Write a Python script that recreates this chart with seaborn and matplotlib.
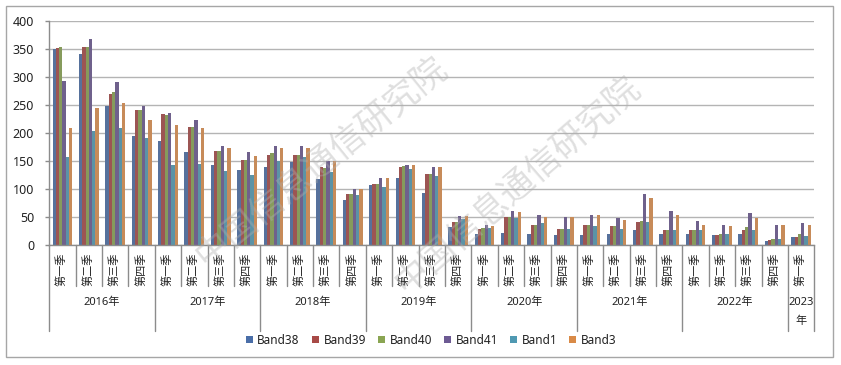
import matplotlib
matplotlib.use('Agg')
import matplotlib.pyplot as plt
import seaborn as sns
import pandas as pd
from matplotlib.patches import Rectangle, Patch

# ---------------- data ----------------
years = ['2016年', '2017年', '2018年', '2019年', '2020年', '2021年', '2022年', '2023年']
quarter_names = ['第一季', '第二季', '第三季', '第四季']
n_periods = 29  # 2016Q1 .. 2023Q1

bands = ['Band38', 'Band39', 'Band40', 'Band41', 'Band1', 'Band3']
band38 = [351, 341, 248, 196, 187, 166, 143, 134, 140, 149, 118, 81, 107, 120, 93, 33, 20, 22, 20, 18, 18, 21, 27, 20, 20, 18, 21, 7, 14]
band39 = [353, 355, 271, 241, 234, 211, 168, 152, 162, 162, 140, 92, 109, 139, 127, 42, 29, 51, 37, 30, 37, 34, 41, 27, 27, 18, 27, 9, 14]
band40 = [355, 355, 273, 241, 232, 211, 168, 152, 164, 162, 138, 92, 109, 141, 127, 42, 31, 51, 37, 29, 37, 34, 43, 27, 27, 21, 32, 12, 20]
band41 = [293, 368, 291, 248, 237, 223, 178, 166, 177, 177, 151, 100, 120, 143, 139, 52, 36, 61, 54, 50, 55, 48, 91, 61, 43, 36, 57, 37, 39]
band1 = [157, 205, 209, 191, 143, 146, 132, 125, 151, 158, 131, 90, 104, 136, 123, 47, 31, 49, 39, 30, 34, 30, 41, 27, 27, 20, 27, 11, 16]
band3 = [209, 246, 255, 223, 214, 209, 173, 159, 174, 174, 151, 100, 120, 143, 139, 52, 35, 60, 50, 50, 55, 45, 84, 55, 37, 34, 48, 36, 37]
colors = ['#4A6EA8', '#A84A47', '#8AA552', '#6D5A93', '#4F99B2', '#D98A47']

series = [band38, band39, band40, band41, band1, band3]
periods = [f'{years[i // 4]}{quarter_names[i % 4]}' for i in range(n_periods)]
rows = []
for b, vals in zip(bands, series):
    for p, v in zip(periods, vals):
        rows.append({'period': p, 'band': b, 'value': v})
df = pd.DataFrame(rows)

# ---------------- figure ----------------
sns.set_theme(style='white')
plt.rcParams['font.family'] = ['Noto Sans', 'Noto Sans CJK SC', 'DejaVu Sans']

W, H = 841, 365
fig = plt.figure(figsize=(W / 100, H / 100), dpi=100)
ax = fig.add_axes([49.3 / W, 1 - 245.3 / H, (814.3 - 49.3) / W, (245.3 - 21.3) / H])

sns.barplot(data=df, x='period', y='value', hue='band', order=periods,
            hue_order=bands, palette=colors, width=0.75, gap=0,
            errorbar=None, linewidth=0, legend=False, ax=ax)

ax.set_xlim(-0.5, n_periods - 0.5)
ax.set_ylim(0, 400)
ax.set_yticks(range(0, 401, 50))
ax.set_xticks([])
ax.set_xlabel('')
ax.set_ylabel('')
ax.yaxis.grid(True, color='#b4b4b4', lw=1)
ax.set_axisbelow(True)
for s in ['top', 'right']:
    ax.spines[s].set_visible(False)
for s in ['left', 'bottom']:
    ax.spines[s].set_color('#8c8c8c')
    ax.spines[s].set_linewidth(1)
ax.tick_params(axis='y', which='both', left=True, length=3, width=1,
               color='#8c8c8c', pad=8, labelsize=9, labelcolor='#222222')

# multi-level category axis
trans = ax.get_xaxis_transform()
ah = 224.0
for i in range(n_periods + 1):
    x = i - 0.5
    boundary = (i % 4 == 0) or (i == n_periods)
    yend = -86 / ah if boundary else -41 / ah
    ax.plot([x, x], [0, yend], transform=trans, color='#8c8c8c', lw=1, clip_on=False)

for i in range(n_periods):
    ax.text(i, -24.5 / ah, quarter_names[i % 4], rotation=90, ha='center', va='center',
            transform=trans, fontsize=8, color='#222222')

for k, y in enumerate(years):
    start = 4 * k
    end = min(start + 3, n_periods - 1)
    cx = (start + end) / 2
    if end - start >= 3:
        ax.text(cx, -57.4 / ah, y, ha='center', va='center', transform=trans,
                fontsize=8, color='#222222')
    else:
        ax.text(cx, -57.4 / ah, y[:-1], ha='center', va='center', transform=trans,
                fontsize=8, color='#222222')
        ax.text(cx, -76.4 / ah, y[-1], ha='center', va='center', transform=trans,
                fontsize=8, color='#222222')

# legend
handles = [Patch(facecolor=c, edgecolor='none') for c in colors]
fig.legend(handles, bands, loc='center', bbox_to_anchor=(431 / W, 1 - 340 / H), ncol=6,
           frameon=False, handlelength=0.6, handleheight=0.6, handletextpad=0.4,
           columnspacing=1.0, fontsize=8.5, labelcolor='#222222')

# outer frame
fig.add_artist(Rectangle((6 / W, 1 - 357 / H), 827 / W, 351 / H, transform=fig.transFigure,
                         fill=False, edgecolor='#a6a6a6', lw=1))

# watermark
for (cx, cy, rot) in [(322, 162, 39), (518, 186, 41)]:
    fig.text(cx / W, 1 - cy / H, '中国信息通信研究院', rotation=rot, ha='center', va='center',
             fontsize=25, color='#b0b0b0', alpha=0.4, family=['Noto Sans CJK SC'],
             rotation_mode='anchor', zorder=10)

fig.savefig('out.png', dpi=100)
